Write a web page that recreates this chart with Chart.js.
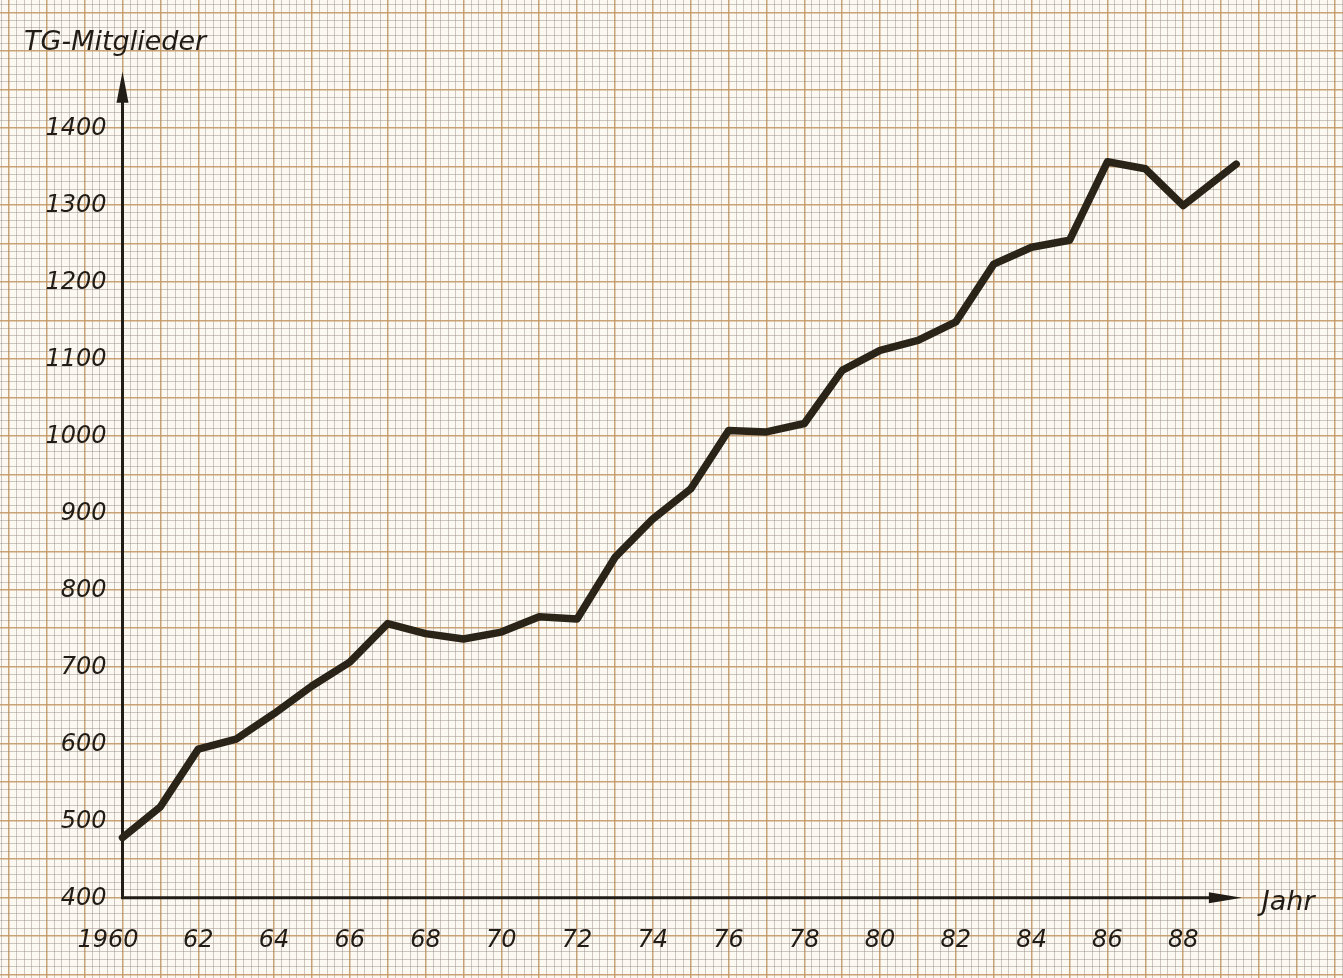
<!DOCTYPE html>
<html><head><meta charset="utf-8">
<script src="https://cdn.jsdelivr.net/npm/chart.js@4"></script>
<style>html,body{margin:0;padding:0;background:#fcf9f2;overflow:hidden}canvas{display:block}</style>
</head><body>
<canvas id="c" width="1343" height="978"></canvas>
<script>
// ---- data ----
const years = [1960,1961,1962,1963,1964,1965,1966,1967,1968,1969,1970,1971,1972,1973,1974,1975,1976,1977,1978,1979,1980,1981,1982,1983,1984,1985,1986,1987,1988,1989.4];
const members = [478,518,593,606,639,675,706,756,743,736,745,765,762,842,892,931,1007,1005,1016,1085,1111,1124,1148,1223,1245,1254,1356,1347,1299,1353];
const xTickYears = [1960,1962,1964,1966,1968,1970,1972,1974,1976,1978,1980,1982,1984,1986,1988];
const xTickLabels = ['1960','62','64','66','68','70','72','74','76','78','80','82','84','86','88'];
const yTickValues = [400,500,600,700,800,900,1000,1100,1200,1300,1400];
const yTickLabels = ['400','500','600','700','800','900','1000','1100','1200','1300','1400'];
const yAxisTitle = 'TG-Mitglieder';
const xAxisTitle = 'Jahr';

// ---- sheet geometry (graph paper spans the whole canvas) ----
const X_MIN = 1956.766, X_MAX = 1992.220;
const Y_MIN = 295.6, Y_MAX = 1566.2;
const Y_ARROW = 1473, X_ARROW = 1989.55;

const ORANGE = 'rgba(194,150,100,0.88)';
const GREY = 'rgba(140,128,122,0.42)';
const INK = '#211c15';
const FONT = '"DejaVu Sans", "Liberation Sans", sans-serif';

const near = (v, step) => Math.abs(v / step - Math.round(v / step)) < 0.01;

// explicit grid positions on round values (1/5 year, 10 members)
function paperTicks(scale, step) {
  const t = [];
  const start = Math.ceil(scale.min / step - 1e-9);
  const end = Math.floor(scale.max / step + 1e-9);
  for (let k = start; k <= end; k++) t.push({value: +(k * step).toFixed(6)});
  scale.ticks = t;
}

const paper = {
  id: 'paper',
  beforeDraw(chart) {
    const {ctx, width, height} = chart;
    ctx.save();
    ctx.fillStyle = '#fcf9f2';
    ctx.fillRect(0, 0, width, height);
    ctx.restore();
  },
  beforeDatasetsDraw(chart) {
    const {ctx} = chart;
    const xs = chart.scales.x, ys = chart.scales.y;
    const x0 = xs.getPixelForValue(1960), y0 = ys.getPixelForValue(400);
    const tipY = ys.getPixelForValue(Y_ARROW), tipX = xs.getPixelForValue(X_ARROW);
    ctx.save();
    ctx.strokeStyle = INK; ctx.fillStyle = INK; ctx.lineWidth = 3; ctx.lineCap = 'butt';
    ctx.beginPath();
    ctx.moveTo(x0, y0 + 1.5); ctx.lineTo(x0, tipY + 20);
    ctx.moveTo(x0 - 1.5, y0); ctx.lineTo(tipX - 20, y0);
    ctx.stroke();
    // arrow heads
    ctx.beginPath();
    ctx.moveTo(x0, tipY); ctx.lineTo(x0 + 6, tipY + 31); ctx.lineTo(x0 - 6, tipY + 31); ctx.closePath(); ctx.fill();
    ctx.beginPath();
    ctx.moveTo(tipX, y0); ctx.lineTo(tipX - 33, y0 + 5.5); ctx.lineTo(tipX - 33, y0 - 5.5); ctx.closePath(); ctx.fill();
    // tick labels
    ctx.font = 'italic 24px ' + FONT;
    ctx.textBaseline = 'middle';
    ctx.textAlign = 'right';
    yTickValues.forEach((v, i) => ctx.fillText(yTickLabels[i], x0 - 16, ys.getPixelForValue(v) + 1));
    ctx.textAlign = 'center';
    xTickYears.forEach((yr, i) => {
      const shift = i === 0 ? -14.5 : 0;
      ctx.fillText(xTickLabels[i], xs.getPixelForValue(yr) + shift, y0 + 43);
    });
    // axis titles
    ctx.font = 'italic 27px ' + FONT;
    ctx.textAlign = 'left';
    ctx.fillText(yAxisTitle, 24, 43);
    ctx.fillText(xAxisTitle, tipX + 20, y0 + 5);
    ctx.restore();
  }
};

new Chart(document.getElementById('c'), {
  type: 'line',
  data: {
    datasets: [{
      data: years.map((x, i) => ({x, y: members[i]})),
      borderColor: '#2a2318',
      borderWidth: 7.5,
      pointRadius: 0,
      tension: 0,
      borderJoinStyle: 'round',
      borderCapStyle: 'round',
      clip: false
    }]
  },
  options: {
    responsive: false,
    animation: false,
    devicePixelRatio: 1,
    layout: {padding: 0},
    plugins: {legend: {display: false}, tooltip: {enabled: false}},
    scales: {
      x: {
        type: 'linear', min: X_MIN, max: X_MAX,
        afterBuildTicks: s => paperTicks(s, 0.2),
        ticks: {display: false},
        grid: {
          drawTicks: false,
          color: c => near(c.tick.value, 1) ? ORANGE : GREY,
          lineWidth: c => near(c.tick.value, 1) ? 1.5 : 1
        },
        border: {display: false}
      },
      y: {
        type: 'linear', min: Y_MIN, max: Y_MAX,
        afterBuildTicks: s => paperTicks(s, 10),
        ticks: {display: false},
        grid: {
          drawTicks: false,
          color: c => near(c.tick.value, 50) ? ORANGE : GREY,
          lineWidth: c => near(c.tick.value, 50) ? 1.5 : 1
        },
        border: {display: false}
      }
    }
  },
  plugins: [paper]
});
</script>
</body></html>
